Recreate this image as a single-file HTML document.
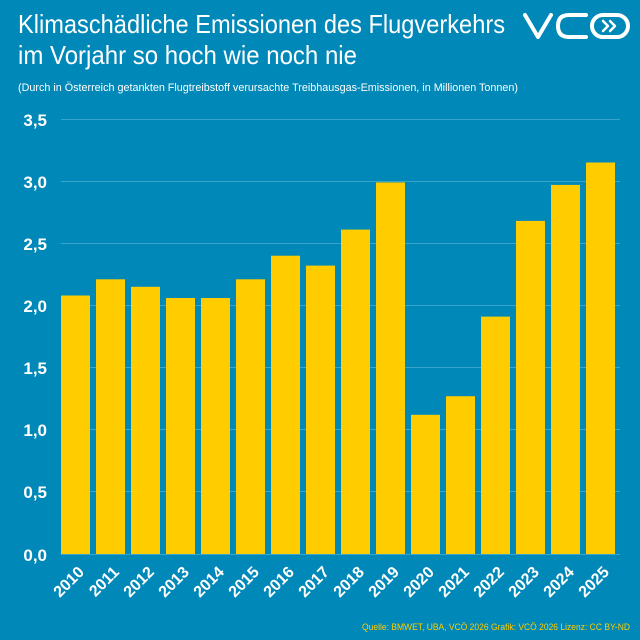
<!DOCTYPE html>
<html><head><meta charset="utf-8"><style>
html,body{margin:0;padding:0;background:#0088b8;}
svg{display:block;font-family:"Liberation Sans",sans-serif;}
</style></head><body>
<svg width="640" height="640" viewBox="0 0 640 640" xmlns="http://www.w3.org/2000/svg">
<rect width="640" height="640" fill="#0088b8"/>
<text x="18" y="33" font-size="26" fill="#fff" textLength="487" lengthAdjust="spacingAndGlyphs">Klimaschädliche Emissionen des Flugverkehrs</text>
<text x="18" y="64" font-size="26" fill="#fff" textLength="339" lengthAdjust="spacingAndGlyphs">im Vorjahr so hoch wie noch nie</text>
<text x="18" y="91" font-size="11" fill="#fff" textLength="500" lengthAdjust="spacingAndGlyphs">(Durch in Österreich getankten Flugtreibstoff verursachte Treibhausgas-Emissionen, in Millionen Tonnen)</text>
<!-- logo -->
<g fill="none" stroke="#fff" stroke-width="4" stroke-linecap="round" stroke-linejoin="round">
<path d="M525 15 L538 37 L551 15"/>
<path d="M586 15 L569 15 Q558 15 558 26 Q558 37 569 37 L586 37"/>
<rect x="592" y="15" width="36" height="22" rx="11"/>
</g>
<g fill="none" stroke="#fff" stroke-width="2.5" stroke-linecap="round" stroke-linejoin="round">
<path d="M603 21 L608 26 L603 31"/><path d="M610 21 L615 26 L610 31"/>
</g>
<!-- grid -->
<g stroke="#3aa4cc" stroke-width="1">
<line x1="61" x2="620" y1="119.5" y2="119.5"/>
<line x1="61" x2="620" y1="181.5" y2="181.5"/>
<line x1="61" x2="620" y1="243.5" y2="243.5"/>
<line x1="61" x2="620" y1="305.5" y2="305.5"/>
<line x1="61" x2="620" y1="367.5" y2="367.5"/>
<line x1="61" x2="620" y1="429.5" y2="429.5"/>
<line x1="61" x2="620" y1="491.5" y2="491.5"/>
<line x1="61" x2="620" y1="554.5" y2="554.5"/>
</g>
<g font-size="17" font-weight="bold" fill="#fff" text-anchor="end">
<text x="47" y="126">3,5</text>
<text x="47" y="188">3,0</text>
<text x="47" y="250">2,5</text>
<text x="47" y="312">2,0</text>
<text x="47" y="374">1,5</text>
<text x="47" y="436">1,0</text>
<text x="47" y="498">0,5</text>
<text x="47" y="561">0,0</text>
</g>
<g fill="#ffcc00">
<rect x="61" y="295.5" width="29" height="258.5"/>
<rect x="96" y="279.3" width="29" height="274.7"/>
<rect x="131" y="286.8" width="29" height="267.2"/>
<rect x="166" y="298" width="29" height="256"/>
<rect x="201" y="298" width="29" height="256"/>
<rect x="236" y="279.3" width="29" height="274.7"/>
<rect x="271" y="255.7" width="29" height="298.3"/>
<rect x="306" y="265.6" width="29" height="288.4"/>
<rect x="341" y="229.6" width="29" height="324.4"/>
<rect x="376" y="182.4" width="29" height="371.6"/>
<rect x="411" y="414.8" width="29" height="139.2"/>
<rect x="446" y="396.2" width="29" height="157.8"/>
<rect x="481" y="316.6" width="29" height="237.4"/>
<rect x="516" y="220.9" width="29" height="333.1"/>
<rect x="551" y="184.9" width="29" height="369.1"/>
<rect x="586" y="162.5" width="29" height="391.5"/>
</g>
<g font-size="16" font-weight="bold" fill="#fff" text-anchor="end">
<text transform="translate(85,573) rotate(-45)">2010</text>
<text transform="translate(120,573) rotate(-45)">2011</text>
<text transform="translate(155,573) rotate(-45)">2012</text>
<text transform="translate(190,573) rotate(-45)">2013</text>
<text transform="translate(225,573) rotate(-45)">2014</text>
<text transform="translate(260,573) rotate(-45)">2015</text>
<text transform="translate(295,573) rotate(-45)">2016</text>
<text transform="translate(330,573) rotate(-45)">2017</text>
<text transform="translate(365,573) rotate(-45)">2018</text>
<text transform="translate(400,573) rotate(-45)">2019</text>
<text transform="translate(435,573) rotate(-45)">2020</text>
<text transform="translate(470,573) rotate(-45)">2021</text>
<text transform="translate(505,573) rotate(-45)">2022</text>
<text transform="translate(540,573) rotate(-45)">2023</text>
<text transform="translate(575,573) rotate(-45)">2024</text>
<text transform="translate(610,573) rotate(-45)">2025</text>
</g>
<text x="630" y="630" font-size="9.5" fill="#ffcc00" text-anchor="end" textLength="268" lengthAdjust="spacingAndGlyphs">Quelle: BMWET, UBA, VCÖ 2026 Grafik: VCÖ 2026 Lizenz: CC BY-ND</text>
</svg>
</body></html>
